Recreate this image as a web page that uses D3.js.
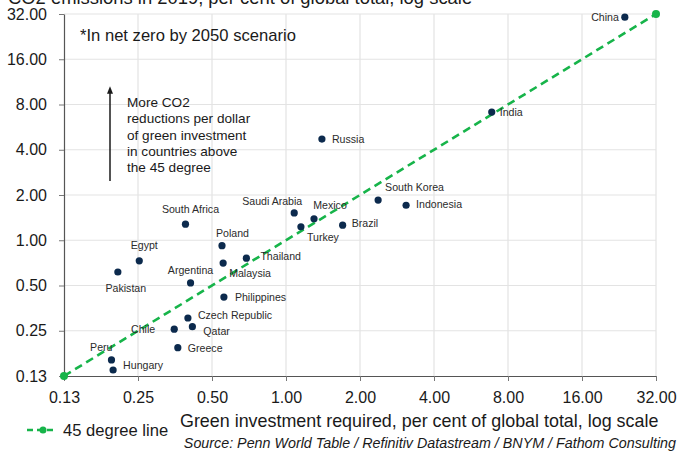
<!DOCTYPE html>
<html>
<head>
<meta charset="utf-8">
<script src="https://cdn.jsdelivr.net/npm/d3@7"></script>
<style>
  html, body { margin: 0; padding: 0; background: #fff; }
  svg { display: block; font-family: "Liberation Sans", Arial, sans-serif; }
</style>
</head>
<body>
<svg id="chart" width="679" height="452"></svg>
<script>
// Country names
const countries = ["China", "India", "Russia", "South Korea", "Indonesia", "Saudi Arabia",
  "Mexico", "Turkey", "Brazil", "South Africa", "Poland", "Egypt", "Malaysia", "Thailand",
  "Pakistan", "Argentina", "Philippines", "Czech Republic", "Chile", "Qatar", "Greece",
  "Peru", "Hungary"];
// Green investment required, % of global total (net zero by 2050)
const investment = [23.9, 6.87, 1.40, 2.37, 3.08, 1.08, 1.30, 1.15, 1.70, 0.39, 0.549, 0.253,
  0.555, 0.69, 0.207, 0.409, 0.559, 0.399, 0.351, 0.416, 0.363, 0.195, 0.198];
// CO2 emissions in 2019, % of global total
const emissions = [30.5, 7.12, 4.71, 1.85, 1.71, 1.52, 1.39, 1.23, 1.26, 1.28, 0.92, 0.73,
  0.705, 0.76, 0.615, 0.52, 0.419, 0.304, 0.256, 0.266, 0.193, 0.16, 0.137];
// Axis ticks (powers of two)
const tickValues = [0.125, 0.25, 0.5, 1, 2, 4, 8, 16, 32];
const tickLabels = ["0.13", "0.25", "0.50", "1.00", "2.00", "4.00", "8.00", "16.00", "32.00"];
// 45 degree reference line endpoints
const diagonal = [0.125, 32];

// Label placement per country: [dx, dy, anchor]
const labelPlacement = {
  "China": [-6, 4, "end"], "India": [8, 4, "start"], "Russia": [10, 4, "start"],
  "South Korea": [7, -9, "start"], "Indonesia": [10, 3, "start"],
  "Saudi Arabia": [-22, -8, "middle"], "Mexico": [16, -10, "middle"],
  "Turkey": [6, 14, "start"], "Brazil": [9, 2, "start"], "South Africa": [5, -11, "middle"],
  "Poland": [-6, -9, "start"], "Egypt": [5, -12, "middle"], "Malaysia": [6, 14, "start"],
  "Thailand": [14, 2, "start"], "Pakistan": [8, 20, "middle"], "Argentina": [0, -9, "middle"],
  "Philippines": [11, 4, "start"], "Czech Republic": [10, 1, "start"], "Chile": [-19, 4, "end"],
  "Qatar": [11, 8, "start"], "Greece": [10, 4, "start"], "Peru": [1, -9, "end"],
  "Hungary": [10, -1, "start"]
};

const svg = d3.select("#chart");
const margin = { left: 64, right: 23, top: 14, bottom: 76 };
const W = 679, H = 452;

const x = d3.scaleLog().base(2).domain([0.125, 32]).range([margin.left, W - margin.right]);
const y = d3.scaleLog().base(2).domain([0.125, 32]).range([H - margin.bottom, margin.top]);

// Gridlines
const grid = svg.append("g");
grid.selectAll("line.v").data(tickValues.slice(1)).join("line")
  .attr("x1", d => x(d)).attr("x2", d => x(d))
  .attr("y1", y(32)).attr("y2", y(0.125))
  .attr("stroke", "#e3e3e3").attr("stroke-width", 1.2);
grid.selectAll("line.h").data(tickValues.slice(1)).join("line")
  .attr("x1", x(0.125)).attr("x2", x(32))
  .attr("y1", d => y(d)).attr("y2", d => y(d))
  .attr("stroke", "#e3e3e3").attr("stroke-width", 1.2);

// Axes
const fmt = d => tickLabels[tickValues.indexOf(d)];
const xAxis = svg.append("g").attr("transform", `translate(0,${y(0.125)})`)
  .call(d3.axisBottom(x).tickValues(tickValues).tickFormat(fmt).tickSize(5).tickSizeOuter(0));
const yAxis = svg.append("g").attr("transform", `translate(${x(0.125)},0)`)
  .call(d3.axisLeft(y).tickValues(tickValues).tickFormat(fmt).tickSize(5).tickSizeOuter(0));
[xAxis, yAxis].forEach(a => {
  a.select(".domain").attr("stroke", "#555").attr("stroke-width", 1.2);
  a.selectAll(".tick line").attr("stroke", "#777");
  a.selectAll(".tick text").attr("font-size", 16).attr("fill", "#1a1a1a")
    .attr("font-family", "Liberation Sans, Arial, sans-serif");
});
xAxis.selectAll(".tick text").attr("y", 27).attr("dy", 0);
yAxis.selectAll(".tick text").attr("x", -17);

// 45 degree line
const green = "#17b44a";
svg.append("line")
  .attr("x1", x(diagonal[0])).attr("y1", y(diagonal[0]))
  .attr("x2", x(diagonal[1])).attr("y2", y(diagonal[1]))
  .attr("stroke", green).attr("stroke-width", 2.6).attr("stroke-dasharray", "8,5");
svg.selectAll("circle.end").data(diagonal).join("circle")
  .attr("cx", d => x(d)).attr("cy", d => y(d)).attr("r", 4).attr("fill", green);

// Country points
const data = countries.map((c, i) => ({ name: c, inv: investment[i], em: emissions[i] }));
svg.selectAll("circle.pt").data(data).join("circle")
  .attr("cx", d => x(d.inv)).attr("cy", d => y(d.em)).attr("r", 3.6).attr("fill", "#0c2a4d");
svg.selectAll("text.lbl").data(data).join("text")
  .attr("x", d => x(d.inv) + labelPlacement[d.name][0])
  .attr("y", d => y(d.em) + labelPlacement[d.name][1])
  .attr("text-anchor", d => labelPlacement[d.name][2])
  .attr("font-size", 10.6).attr("fill", "#2b2b2b").text(d => d.name);

// Y axis title (top, runs off the upper edge)
svg.append("text").attr("x", 8).attr("y", 4).attr("font-size", 18.4).attr("fill", "#1a1a1a")
  .text("CO2 emissions in 2019, per cent of global total, log scale");

// Annotations
svg.append("text").attr("x", 80).attr("y", 41).attr("font-size", 16.6).attr("fill", "#1a1a1a")
  .text("*In net zero by 2050 scenario");

svg.append("defs").append("marker").attr("id", "arrow").attr("viewBox", "0 0 10 10")
  .attr("refX", 5).attr("refY", 5).attr("markerWidth", 5).attr("markerHeight", 5)
  .attr("orient", "auto")
  .append("path").attr("d", "M0,1 L10,5 L0,9 Z").attr("fill", "#1a1a1a");
svg.append("line").attr("x1", 110).attr("y1", 181).attr("x2", 110).attr("y2", 90)
  .attr("stroke", "#1a1a1a").attr("stroke-width", 1.5).attr("marker-end", "url(#arrow)");

const note = ["More CO2", "reductions per dollar", "of green investment",
  "in countries above", "the 45 degree"];
svg.append("text").attr("font-size", 13.6).attr("fill", "#1a1a1a")
  .selectAll("tspan").data(note).join("tspan")
  .attr("x", 127).attr("y", (d, i) => 107 + i * 16.3).text(d => d);

// X axis title and source
svg.append("text").attr("x", 180).attr("y", 427).attr("font-size", 17.9).attr("fill", "#1a1a1a")
  .text("Green investment required, per cent of global total, log scale");
svg.append("text").attr("x", 676).attr("y", 448).attr("text-anchor", "end")
  .attr("font-size", 14.3).attr("font-style", "italic").attr("fill", "#1a1a1a")
  .text("Source: Penn World Table / Refinitiv Datastream / BNYM / Fathom Consulting");

// Legend
const lg = svg.append("g").attr("transform", "translate(27,430)");
lg.append("line").attr("x1", 0).attr("x2", 26).attr("y1", 0).attr("y2", 0)
  .attr("stroke", green).attr("stroke-width", 2.6).attr("stroke-dasharray", "6,4");
lg.append("circle").attr("cx", 16).attr("cy", 0).attr("r", 3.5).attr("fill", green);
lg.append("text").attr("x", 36).attr("y", 6).attr("font-size", 16.6).attr("fill", "#1a1a1a")
  .text("45 degree line");
</script>
</body>
</html>
